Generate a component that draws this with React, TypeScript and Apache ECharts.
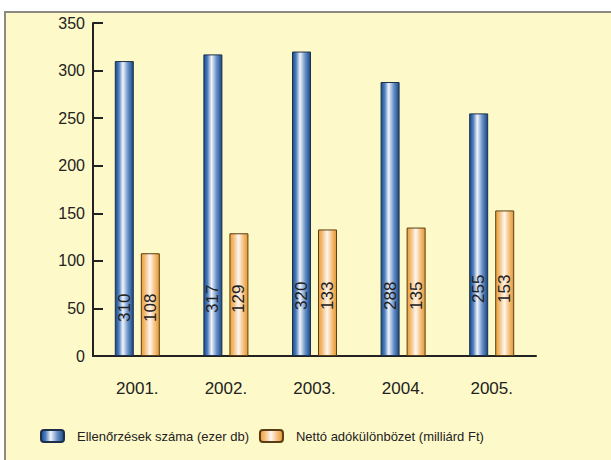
import React, { useEffect, useRef } from "react";
import * as echarts from "echarts";

const categories = ["2001.", "2002.", "2003.", "2004.", "2005."];
const checksThousand = [310, 317, 320, 288, 255];
const netTaxDiffBnFt = [108, 129, 133, 135, 153];
const yTicks = [0, 50, 100, 150, 200, 250, 300, 350];
const seriesNames = ["Ellenőrzések száma (ezer db)", "Nettó adókülönbözet (milliárd Ft)"];
// style: how high above the axis each category's value labels sit
const labelLift = [34, 43, 46, 46, 53];

const FONT = "'Liberation Sans', Arial, sans-serif";

const blueGrad = new echarts.graphic.LinearGradient(0, 0, 1, 0, [
  { offset: 0, color: "#174a8a" },
  { offset: 0.2, color: "#4f7fbe" },
  { offset: 0.42, color: "#f2f5fb" },
  { offset: 0.7, color: "#6a92c8" },
  { offset: 1, color: "#164886" },
]);
const orangeGrad = new echarts.graphic.LinearGradient(0, 0, 1, 0, [
  { offset: 0, color: "#e99e36" },
  { offset: 0.22, color: "#f4c07e" },
  { offset: 0.48, color: "#fff7f0" },
  { offset: 0.75, color: "#f4c07e" },
  { offset: 1, color: "#e6982e" },
]);

export default function App() {
  const ref = useRef<HTMLDivElement>(null);
  useEffect(() => {
    if (!ref.current) return;
    const chart = echarts.init(ref.current, undefined, { renderer: "svg" });
    const mkData = (vals: number[]) =>
      vals.map((v, i) => ({ value: v, label: { distance: labelLift[i] } }));
    const labelCfg = {
      show: true,
      position: "insideBottom",
      rotate: 90,
      align: "left",
      verticalAlign: "middle",
      color: "#222",
      fontSize: 17,
      fontFamily: FONT,
    };
    chart.setOption({
      animation: false,
      backgroundColor: "#ffffff",
      graphic: [
        {
          type: "rect",
          z: -10,
          silent: true,
          shape: { x: 5, y: 12, width: 640, height: 480 },
          style: { fill: "#fef9c8", stroke: "#8d8b80", lineWidth: 2 },
        },
      ],
      grid: { left: 93, right: 75, top: 23, bottom: 104 },
      legend: {
        bottom: 12,
        left: 35,
        itemWidth: 23,
        itemHeight: 12,
        itemGap: 10,
        textStyle: { fontSize: 13, color: "#222", fontFamily: FONT, padding: [0, 0, 0, 8] },
        data: seriesNames,
      },
      xAxis: {
        type: "category",
        data: categories,
        axisLine: { lineStyle: { color: "#222", width: 2 } },
        axisTick: { inside: true, length: 7, lineStyle: { color: "#222", width: 2 } },
        axisLabel: { fontSize: 17, color: "#222", fontFamily: FONT, margin: 24 },
      },
      yAxis: {
        type: "value",
        min: 0,
        max: 350,
        interval: 50,
        splitLine: { show: false },
        axisLine: { show: true, lineStyle: { color: "#222", width: 2 } },
        axisTick: { show: true, inside: true, length: 10, lineStyle: { color: "#222", width: 2 } },
        axisLabel: {
          fontSize: 16,
          color: "#222",
          fontFamily: FONT,
          margin: 8,
          formatter: (v: number) => (yTicks.includes(v) ? String(v) : ""),
        },
      },
      series: [
        {
          name: seriesNames[0],
          type: "bar",
          barWidth: 19,
          barGap: "37%",
          data: mkData(checksThousand),
          itemStyle: { color: blueGrad, borderColor: "#1e2f4a", borderWidth: 1 },
          label: labelCfg,
        },
        {
          name: seriesNames[1],
          type: "bar",
          barWidth: 19,
          barGap: "37%",
          data: mkData(netTaxDiffBnFt),
          itemStyle: { color: orangeGrad, borderColor: "#5a3d14", borderWidth: 1 },
          label: labelCfg,
        },
      ],
    });
    return () => chart.dispose();
  }, []);
  return (
    <div
      ref={ref}
      style={{ position: "absolute", left: 0, top: 0, width: 611, height: 460 }}
    />
  );
}
